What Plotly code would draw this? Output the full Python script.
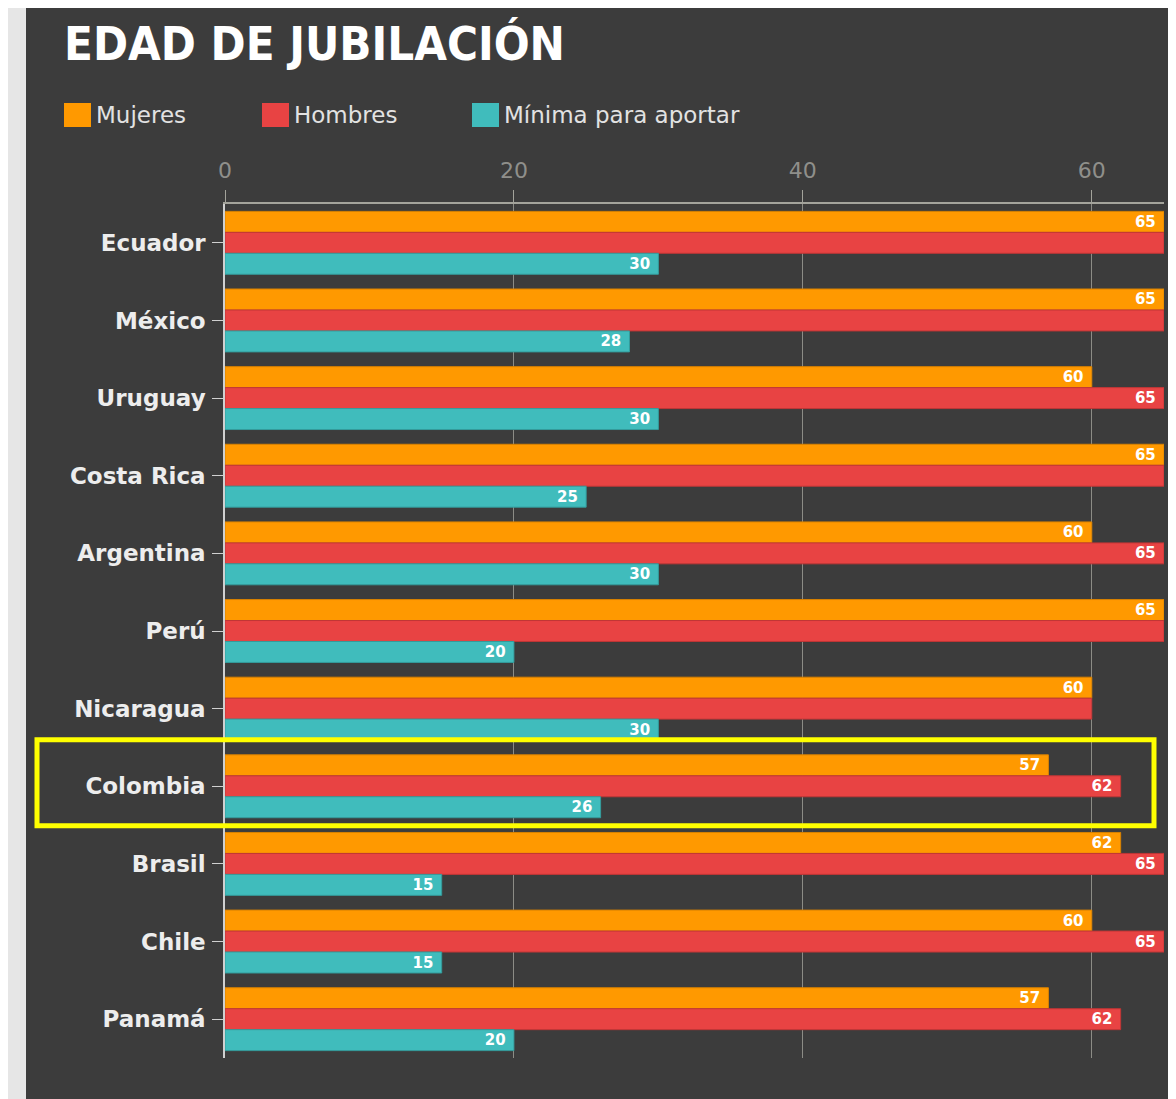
import plotly.graph_objects as go

# data
paises = ["Ecuador", "México", "Uruguay", "Costa Rica", "Argentina", "Perú",
          "Nicaragua", "Colombia", "Brasil", "Chile", "Panamá"]
mujeres = [65, 65, 60, 65, 60, 65, 60, 57, 62, 60, 57]
hombres = [65, 65, 65, 65, 65, 65, 60, 62, 65, 65, 62]
minima = [30, 28, 30, 25, 30, 20, 30, 26, 15, 15, 20]

series_names = ["Mujeres", "Hombres", "Mínima para aportar"]
colores = ["#FF9900", "#E84343", "#40BCBC"]
bordes = ["#D98200", "#C03636", "#349C9C"]

destacado = "Colombia"

BG = "#3C3C3C"
W, H = 1176, 1099
OFF = 8  # the page body adds an 8px margin, so work in shifted pixels
M = dict(l=225 - OFF, r=W - (1164 - OFF), t=204 - OFF, b=H - (1058 - OFF))
pw = W - M["l"] - M["r"]
ph = H - M["t"] - M["b"]


def px_x(x):
    return (x - OFF - M["l"]) / pw


def px_y(y):
    return 1 - (y - OFF - M["t"]) / ph


# the "Hombres" label is only shown when it differs from "Mujeres"
NB = "\u00a0"
textos = [
    [f"{v}{NB}" for v in mujeres],
    [f"{h}{NB}" if h != m else "" for h, m in zip(hombres, mujeres)],
    [f"{v}{NB}" for v in minima],
]

fig = go.Figure()
for nombre, vals, txt, c, b in zip(series_names, [mujeres, hombres, minima], textos, colores, bordes):
    fig.add_trace(go.Bar(
        y=paises, x=vals, name=nombre, orientation="h",
        marker=dict(color=c, line=dict(color=b, width=1)),
        text=txt, textposition="inside", insidetextanchor="end",
        textangle=0, constraintext="none",
        textfont=dict(family="DejaVu Sans", size=15, color="white", weight="bold"),
        showlegend=False,
    ))

fig.update_layout(
    width=W, height=H, margin=M,
    paper_bgcolor="#E6E6E6", plot_bgcolor=BG,
    barmode="group", bargap=0.19, bargroupgap=0,
    xaxis=dict(
        side="top", range=[0, 65], tickvals=[0, 20, 40, 60],
        showgrid=True, gridcolor="#8C8C86", gridwidth=1, zeroline=False,
        showline=True, linecolor="#A3A39B", linewidth=1.5,
        ticks="outside", ticklen=12, tickcolor="#A3A39B",
        ticklabelstandoff=3,
        tickfont=dict(family="DejaVu Sans", size=22, color="#8F8F8B"),
    ),
    yaxis=dict(
        categoryorder="array", categoryarray=paises, autorange="reversed",
        showgrid=False, zeroline=False,
        showline=True, linecolor="#D0D0D0", linewidth=1.5,
        ticks="outside", ticklen=11, tickcolor="#D0D0D0",
        ticklabelstandoff=2,
        tickfont=dict(family="DejaVu Sans", size=23, color="#EDEDED", weight="bold"),
    ),
)

shapes = [
    # dark panel behind the chart
    dict(type="rect", xref="paper", yref="paper", layer="below",
         x0=px_x(26), x1=px_x(W + 40), y0=px_y(H + 40), y1=px_y(6),
         fillcolor=BG, line=dict(width=0)),
]

# highlight box around the chosen country
idx = paises.index(destacado)
shapes.append(dict(type="rect", xref="paper", yref="y",
                   x0=px_x(37), x1=px_x(1154), y0=idx + 0.51, y1=idx - 0.6,
                   line=dict(color="#FFFF00", width=5), fillcolor="rgba(0,0,0,0)"))

annotations = [
    dict(text="EDAD DE JUBILACIÓN", xref="paper", yref="paper",
         x=px_x(62), y=px_y(43), xanchor="left", yanchor="middle", showarrow=False,
         font=dict(family="DejaVu Sans Condensed", size=47,
                   color="white", weight="bold")),
]

# legend drawn by hand
leg_x = [64, 262, 472]
for xs, nombre, c in zip(leg_x, series_names, colores):
    shapes.append(dict(type="rect", xref="paper", yref="paper",
                       x0=px_x(xs), x1=px_x(xs + 27), y0=px_y(127), y1=px_y(103),
                       fillcolor=c, line=dict(width=0)))
    annotations.append(dict(text=nombre, xref="paper", yref="paper",
                            x=px_x(xs + 30), y=px_y(115), xanchor="left", yanchor="middle",
                            showarrow=False,
                            font=dict(family="DejaVu Sans", size=23, color="#E2E2E2")))

fig.update_layout(shapes=shapes, annotations=annotations)

fig.write_html("out.html")
